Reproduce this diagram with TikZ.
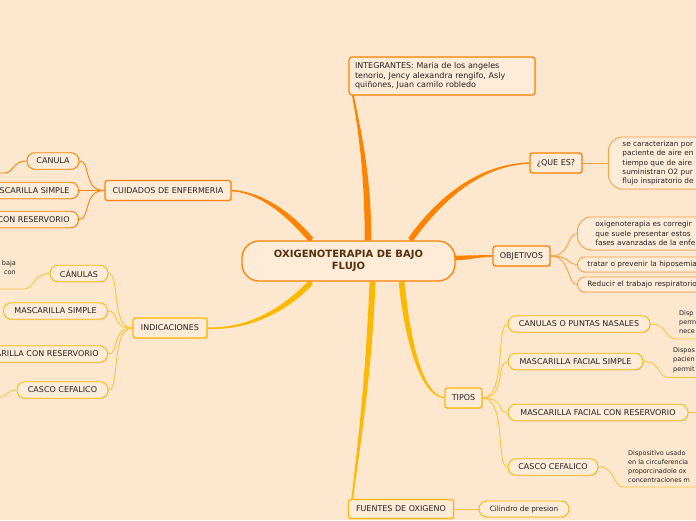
\documentclass[tikz,border=0pt]{standalone}
\usepackage{fontspec}
\setmainfont{DejaVu Sans}
\usetikzlibrary{calc,shadows}
\definecolor{bgc}{HTML}{FDE7CF}
\definecolor{nfill}{HTML}{FEEBD8}
\definecolor{orC}{HTML}{FF8200}
\definecolor{orL}{HTML}{FFA040}
\definecolor{goC}{HTML}{FFB800}
\definecolor{goL}{HTML}{FFC43A}
\definecolor{txt}{HTML}{242424}
\definecolor{ctxt}{HTML}{54310E}
\pgfdeclarelayer{bg}
\pgfdeclarelayer{edges}
\pgfsetlayers{bg,edges,main}
\newcommand\branch[7]{%
  \fill[#1] let \p1=(#2), \p2=(#5), \n1={atan2(\y2-\y1,\x2-\x1)+90} in
   ($(#2)+(\n1:#6)$) .. controls ($(#2)+#3+(\n1:#6)$) and ($(#5)+#4+(\n1:#7)$) .. ($(#5)+(\n1:#7)$)
   -- ($(#5)-(\n1:#7)$) .. controls ($(#5)+#4-(\n1:#7)$) and ($(#2)+#3-(\n1:#6)$) .. ($(#2)-(\n1:#6)$) -- cycle;}
\begin{document}
\begin{tikzpicture}[x=1pt,y=-1pt,
  shad/.style={drop shadow={opacity=0.18,shadow xshift=0.8pt,shadow yshift=-0.9pt}},
  central/.style={draw=orC, line width=1.3pt, fill=nfill, rounded corners=17pt,
     minimum width=213pt, minimum height=40pt, align=center, inner sep=0pt,
     font=\fontsize{10}{11.5}\selectfont\bfseries, text=ctxt},
  topic/.style={draw=#1, line width=1.3pt, fill=nfill, rounded corners=2.5pt,
     minimum height=20pt, inner xsep=4pt, inner ysep=0pt,
     font=\fontsize{8}{9.6}\selectfont, text=txt, shad},
  topic/.default=orC,
  sub/.style={draw=#1, line width=0.9pt, fill=nfill, rounded corners=8pt,
     minimum height=16.5pt, inner xsep=9pt, inner ysep=0pt,
     font=\fontsize{8}{9.6}\selectfont, text=txt, shad},
  sub/.default=goC,
  objsub/.style={draw=orL, line width=0.9pt, fill=nfill, rounded corners=7.5pt,
     anchor=west, text width=125pt, align=left, inner xsep=10pt, inner ysep=0pt,
     minimum height=15pt, font=\fontsize{7.3}{9.3}\selectfont, text=txt, shad},
  note/.style={font=\fontsize{6.5}{9.2}\selectfont, text=txt, align=left, inner sep=0pt},
  link/.style={draw=#1, line width=0.9pt},
  link/.default=goL]
\useasboundingbox (0,0) rectangle (696,520);
\begin{pgfonlayer}{bg}
\fill[bgc] (0,0) rectangle (696,520);
\end{pgfonlayer}

% central
\node[central] (c) at (348.5,261) {OXIGENOTERAPIA DE BAJO\\FLUJO};

% top
\node[draw=orC, line width=1.2pt, fill=nfill, rounded corners=3pt, text width=174pt,
  inner xsep=6pt, inner ysep=0pt, minimum height=38pt, align=left,
  font=\fontsize{8}{9.6}\selectfont, text=txt, shad] (integ) at (442,76)
  {INTEGRANTES: Maria de los angeles\\tenorio, Jency alexandra rengifo, Asly\\quiñones, Juan camilo robledo};

% QUE ES
\node[topic, minimum width=52pt] (qes) at (556,163) {¿QUE ES?};
\node[draw=orL, line width=0.9pt, fill=nfill, rounded corners=14pt, anchor=west,
  text width=110pt, inner xsep=14pt, inner ysep=0pt, minimum height=52pt, align=left,
  font=\fontsize{7.3}{9.3}\selectfont, text=txt, shad] (qd) at (608,163)
  {se caracterizan por\\paciente de aire en\\tiempo que de aire\\suministran O2 pur\\flujo inspiratorio de};

% OBJETIVOS
\node[topic, minimum width=57pt] (obj) at (521.5,256) {OBJETIVOS};
\node[objsub, minimum height=33pt, rounded corners=14pt, inner xsep=18pt] (o1) at (577,233.5)
  {oxigenoterapia es corregir\\que suele presentar estos\\fases avanzadas de la enfe};
\node[objsub] (o2) at (577,264.5) {tratar o prevenir la hiposemia};
\node[objsub] (o3) at (577,284.5) {Reducir el trabajo respiratorio};

% CUIDADOS
\node[topic, minimum width=126pt] (cuid) at (168,190.5) {CUIDADOS DE ENFERMERIA};
\node[sub=orC, minimum width=52pt] (canula) at (53,161) {CANULA};
\node[sub=orC, anchor=east] (mascs1) at (79,190.5) {MASCARILLA SIMPLE};
\node[sub=orC, anchor=east] (mascr1) at (79,219.5) {MASCARILLA CON RESERVORIO};

% INDICACIONES
\node[topic=goC, minimum width=74pt] (indic) at (170,328) {INDICACIONES};
\node[sub, minimum width=58pt] (canulas) at (79,273.5) {CÁNULAS};
\node[sub, minimum width=104pt] (mascs2) at (55.5,311) {MASCARILLA SIMPLE};
\node[sub, anchor=east] (mascr2) at (108,354) {MASCARILLA CON RESERVORIO};
\node[sub, minimum width=91pt] (casco1) at (62.5,390) {CASCO CEFALICO};
\node[note, anchor=north east, align=right] (bc) at (16,260) {baja\\con};

% TIPOS
\node[topic=goC, minimum width=37pt] (tipos) at (463.5,398) {TIPOS};
\node[sub, minimum width=142pt] (cnp) at (579,324) {CANULAS O PUNTAS NASALES};
\node[sub, minimum width=135pt] (mfs) at (575.5,361.5) {MASCARILLA FACIAL SIMPLE};
\node[sub, minimum width=180pt] (mfcr) at (598,412.5) {MASCARILLA FACIAL CON RESERVORIO};
\node[sub, minimum width=90pt] (casco2) at (553,467) {CASCO CEFALICO};
\node[note, anchor=north west] (d1) at (679,310) {Disp\\perm\\nece};
\node[note, anchor=north west] (d2) at (673,347.5) {Dispos\\pacien\\permit};
\node[note, anchor=north west] (d4) at (628,450) {Dispositivo usado\\en la circuferencia\\proporcinadole ox\\concentraciones m};

% FUENTES
\node[topic=goC, minimum width=105pt, minimum height=19pt] (fuentes) at (401,509) {FUENTES DE OXIGENO};
\node[sub, minimum width=90pt, minimum height=16pt, font=\fontsize{7.3}{9}\selectfont] (cil) at (524,509) {Cilindro de presion};

% free ends
\coordinate (k1) at (4,173);   \coordinate (k1e) at (-12,173);
\coordinate (k2) at (24,289);  \coordinate (k2e) at (-12,289);
\coordinate (k3) at (1,397);   \coordinate (k3e) at (-12,397);
\coordinate (u1) at (676,339); \coordinate (u1e) at (710,339);
\coordinate (u2) at (669,377.5); \coordinate (u2e) at (710,377.5);
\coordinate (u3) at (710,412.5);
\coordinate (u4) at (624,487); \coordinate (u4e) at (710,487);

% branch anchors
\coordinate (s1) at ($(c.north)+(19.5,0)$);
\coordinate (e1) at ($(integ.south west)+(4,-3)$);
\coordinate (s2) at ($(c.north)+(61.5,0)$);
\coordinate (s3) at ($(c.north)+(-37,0)$);
\coordinate (s4) at ($(c.east)+(-3,-3)$);
\coordinate (s5) at ($(c.south)+(-37,0)$);
\coordinate (s6) at ($(c.south)+(53,0)$);
\coordinate (s7) at ($(c.south)+(24,0)$);
\coordinate (e7) at ($(fuentes.north west)+(4,3)$);

\begin{pgfonlayer}{edges}
\branch{orC}{s1}{(0,-70)}{(6,32)}{e1}{3.3pt}{0.9pt}
\branch{orC}{s2}{(30,-42)}{(-50,2)}{qes.west}{3pt}{0.8pt}
\branch{orC}{s3}{(-22,-26)}{(30,2)}{cuid.east}{3pt}{0.8pt}
\branch{orC}{s4}{(15,0)}{(-15,0)}{obj.west}{2.4pt}{0.9pt}
\branch{goC}{s5}{(-22,24)}{(45,2)}{indic.east}{3pt}{0.8pt}
\branch{goC}{s6}{(5,50)}{(-25,-3)}{tipos.west}{3pt}{0.8pt}
\branch{goC}{s7}{(-4,100)}{(6,-50)}{e7}{3pt}{0.9pt}

\draw[link=orL] (qes.east) -- (qd.west);
\foreach \t in {o1,o2,o3}
  \draw[link=orL] (obj.east) .. controls +(20,0) and +(-10,0) .. (\t.west);
\foreach \t in {canula,mascs1,mascr1}
  \draw[link=orC] (cuid.west) .. controls +(-22,0) and +(12,0) .. (\t.east);
\draw[link=orC] (canula.west) .. controls +(-14,0) and +(10,0) .. (k1) -- (k1e);
\foreach \t in {canulas,mascs2,mascr2,casco1}
  \draw[link] (indic.west) .. controls +(-22,0) and +(12,0) .. (\t.east);
\draw[link] (canulas.west) .. controls +(-16,0) and +(10,0) .. (k2) -- (k2e);
\draw[link] (casco1.west) .. controls +(-10,0) and +(6,0) .. (k3) -- (k3e);
\foreach \t in {cnp,mfs,mfcr,casco2}
  \draw[link] (tipos.east) .. controls +(24,0) and +(-12,0) .. (\t.west);
\draw[link] (cnp.east) .. controls +(18,0) and +(-12,0) .. (u1) -- (u1e);
\draw[link] (mfs.east) .. controls +(18,0) and +(-12,0) .. (u2) -- (u2e);
\draw[link] (mfcr.east) -- (u3);
\draw[link] (casco2.east) .. controls +(18,0) and +(-12,0) .. (u4) -- (u4e);
\draw[link] (fuentes.east) -- (cil.west);
\end{pgfonlayer}
\end{tikzpicture}
\end{document}
